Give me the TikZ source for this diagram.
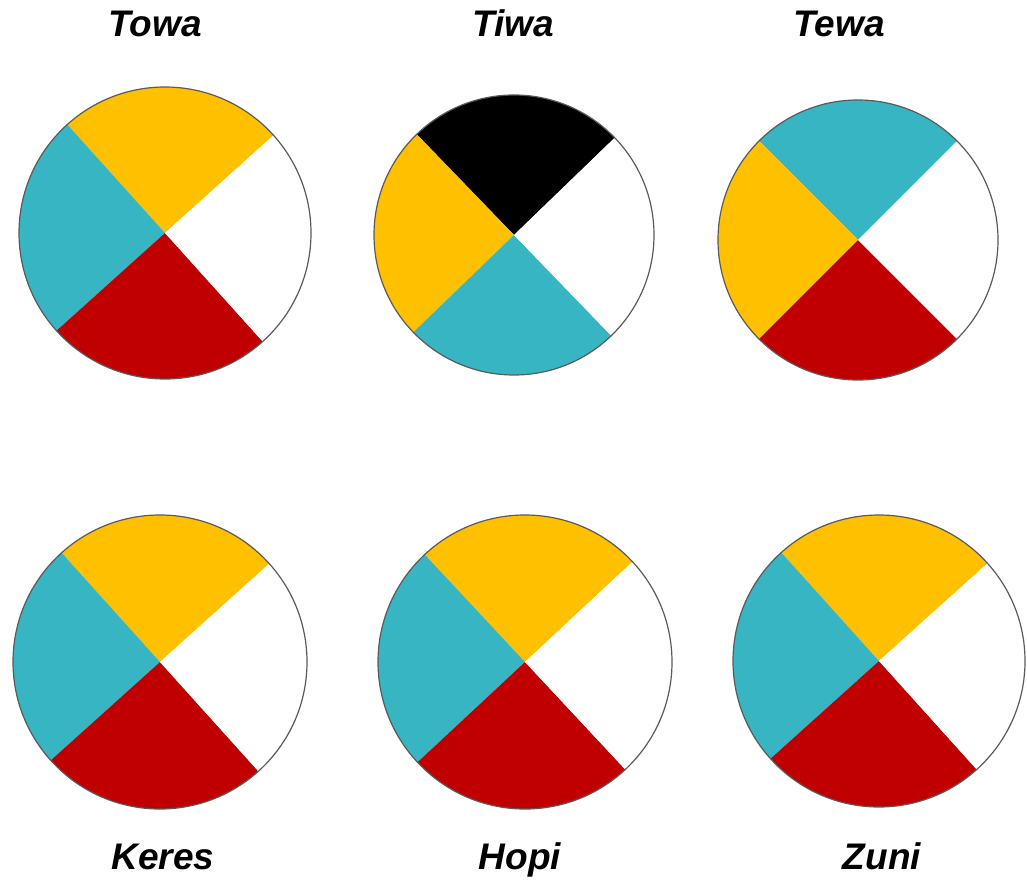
\documentclass[tikz,border=0pt]{standalone}
\usepackage{fontspec}
\setmainfont{Liberation Sans}
\usetikzlibrary{positioning}
\definecolor{wheelyellow}{HTML}{FFC000}
\definecolor{wheelteal}{HTML}{38B5C2}
\definecolor{wheelred}{HTML}{C00000}
\definecolor{wheelrim}{HTML}{5A5A5A}

% #1 centre, #2 radius, #3 first boundary angle, #4 top, #5 left, #6 bottom, #7 right
\newcommand{\quadwheel}[7]{%
  \fill[#4] (#1) -- ++(#3:#2) arc[start angle=#3, delta angle=90, radius=#2] -- cycle;
  \fill[#5] (#1) -- ++(#3+90:#2) arc[start angle=#3+90, delta angle=90, radius=#2] -- cycle;
  \fill[#6] (#1) -- ++(#3+180:#2) arc[start angle=#3+180, delta angle=90, radius=#2] -- cycle;
  \fill[#7] (#1) -- ++(#3+270:#2) arc[start angle=#3+270, delta angle=90, radius=#2] -- cycle;
  \draw[rim] (#1) circle[radius=#2];
}

\begin{document}
\begin{tikzpicture}[x=1pt, y=1pt]
  \tikzstyle{rim}=[draw=wheelrim, line width=1.2pt]
  \tikzstyle{wheelname}=[anchor=base, inner sep=0pt, font=\fontsize{37}{40}\selectfont\bfseries\itshape]
  \useasboundingbox (0,0) rectangle (1027,879);

  % top row
  \coordinate (towa) at (165,646);
  \coordinate (tiwa) at (514,644);
  \coordinate (tewa) at (858,639);
  \quadwheel{towa}{146}{42}{wheelyellow}{wheelteal}{wheelred}{white}
  \quadwheel{tiwa}{140}{44}{black}{wheelyellow}{wheelteal}{white}
  \quadwheel{tewa}{140}{45}{wheelteal}{wheelyellow}{wheelred}{white}
  \node[wheelname] (towaname) at (155,842) {Towa};
  \node[wheelname] (tiwaname) at (513,842) {Tiwa};
  \node[wheelname] (tewaname) at (839,842) {Tewa};

  % bottom row
  \coordinate (keres) at (160,217);
  \coordinate (hopi) at (525,217);
  \coordinate (zuni) at (879,218);
  \quadwheel{keres}{147}{42}{wheelyellow}{wheelteal}{wheelred}{white}
  \quadwheel{hopi}{147}{43}{wheelyellow}{wheelteal}{wheelred}{white}
  \quadwheel{zuni}{146}{42}{wheelyellow}{wheelteal}{wheelred}{white}
  \node[wheelname] (keresname) at (163,10) {Keres};
  \node[wheelname] (hopiname) at (520,10) {Hopi};
  \node[wheelname] (zuniname) at (882,10) {Zuni};
\end{tikzpicture}
\end{document}
